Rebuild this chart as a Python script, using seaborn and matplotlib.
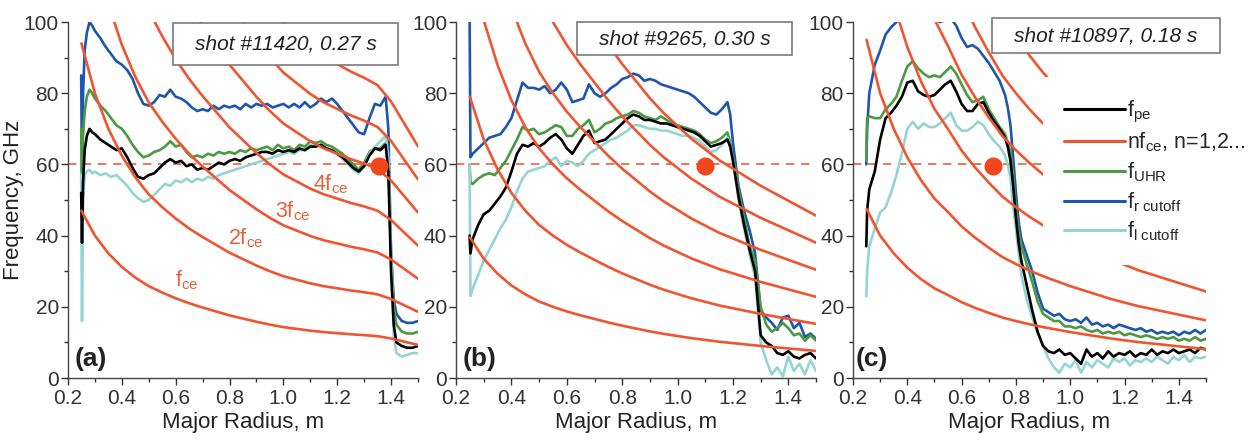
import numpy as np
import pandas as pd
import matplotlib
matplotlib.use('Agg')
import matplotlib.pyplot as plt
import seaborn as sns
from matplotlib.lines import Line2D
from matplotlib.patches import Rectangle
from matplotlib.ticker import MultipleLocator

# ---------------- data ----------------
# electron-cyclotron frequency f_ce (GHz) vs major radius, per shot
RCE = [0.25, 0.30, 0.35, 0.40, 0.45, 0.50, 0.55, 0.60, 0.65, 0.70, 0.75, 0.80, 0.85,
       0.90, 0.95, 1.00, 1.05, 1.10, 1.15, 1.20, 1.25, 1.30, 1.35, 1.40, 1.45, 1.50]
FCE_A = [47.0, 40.0, 35.0, 31.2, 28.2, 25.8, 24.0, 22.4, 21.0, 19.8, 18.7, 17.6, 16.7,
         15.8, 15.0, 14.3, 13.8, 13.3, 12.9, 12.6, 12.3, 12.05, 11.75, 11.1, 10.2, 9.3]
FCE_B = [39.5, 33.5, 29.3, 26.0, 23.5, 21.5, 20.0, 18.7, 17.6, 16.6, 15.6, 14.7, 13.9,
         13.1, 12.4, 11.8, 11.2, 10.7, 10.2, 9.8, 9.4, 9.0, 8.65, 8.3, 7.95, 7.6]
FCE_C = [47.5, 40.0, 35.0, 31.0, 27.8, 25.2, 23.3, 21.3, 19.7, 18.3, 17.0, 16.0, 15.1,
         14.3, 13.6, 12.9, 12.3, 11.7, 11.1, 10.6, 10.1, 9.7, 9.3, 8.9, 8.5, 8.1]
N_HARM = [7, 6, 6]

# ---- shot #11420 (a)
R_A = [0.249, 0.252, 0.256, 0.262, 0.270, 0.28, 0.29,
       0.30, 0.32, 0.34, 0.36, 0.38, 0.40, 0.42, 0.44, 0.46, 0.48,
       0.50, 0.52, 0.54, 0.56, 0.58, 0.60, 0.62, 0.64, 0.66, 0.68,
       0.70, 0.72, 0.74, 0.76, 0.78, 0.80, 0.82, 0.84, 0.86, 0.88,
       0.90, 0.92, 0.94, 0.96, 0.98, 1.00, 1.02, 1.04, 1.06, 1.08,
       1.10, 1.12, 1.14, 1.16, 1.18, 1.20, 1.22, 1.24, 1.26, 1.28,
       1.30, 1.32, 1.34, 1.36, 1.38,
       1.39, 1.40, 1.41, 1.42, 1.44, 1.46, 1.48, 1.50]
RCUT_A = [85, 58, 80, 92, 97, 100, 99,
          97.5, 95.5, 93, 91, 89, 88, 86.5, 84, 80, 77,
          76.5, 77.5, 79.5, 79, 81, 79, 78.5, 77.5, 76, 75,
          75.5, 75, 76.5, 75.5, 76.5, 76, 76.5, 75.5, 77, 76,
          77, 76.5, 77, 76, 76.5, 77, 76, 77, 76, 77.5,
          76, 77, 78.5, 77.5, 78.5, 77, 75, 73, 71, 69,
          68.5, 73, 77, 76.5, 79,
          70, 35, 22, 18, 16, 15.5, 15.5, 16]
UHR_A = [70, 55, 68, 75, 79, 81, 80,
         78.5, 76.5, 75, 73, 71, 70, 68, 65.5, 63.5, 62,
         62.5, 63.5, 64, 65, 66.5, 65, 65.5, 63.5, 62, 62.5,
         62, 63, 62.5, 63.5, 63, 63.5, 63, 64, 63.5, 64.5,
         64, 64.5, 65, 64, 65.5, 64.5, 65, 64, 65.5, 65,
         66.5, 66, 66.5, 65.5, 65, 64, 63, 61.5, 60, 58.5,
         60.5, 63.5, 64.5, 64.5, 66,
         60, 35, 20, 15, 13, 12.5, 12.5, 13]
FPE_A = [52, 38, 55, 64, 68, 70, 69,
         68.5, 67, 66, 65, 64, 64.5, 62, 59, 56.5, 56,
         57, 57.5, 59, 60.5, 61.5, 60.5, 61, 59.5, 60, 58.5,
         59, 58.5, 59.5, 60.5, 60, 61, 61.5, 61, 62, 62.5,
         63, 63.5, 63.5, 63, 64, 63.5, 64, 63.5, 64.5, 64,
         65, 65, 65.5, 64.5, 64, 63, 62, 60.5, 59, 58,
         59.5, 62.5, 64.5, 64, 65.5,
         58, 30, 15, 10, 9, 8.5, 8.5, 9]
LCUT_A = [57, 16, 50, 57, 58, 58.5, 57.5,
          58, 57, 57.5, 56.5, 57, 55.5, 54, 52, 50.5, 49.5,
          50, 51.5, 53, 54.5, 54, 55.5, 55, 56, 55, 56,
          55.5, 56.5, 56, 57, 57.5, 58, 58.5, 59, 59.5, 60,
          60.5, 61, 61.5, 62, 62.5, 63, 63.5, 63, 64, 64,
          65.5, 65, 65.5, 64.5, 64, 63, 61.5, 60, 58.5, 57.5,
          59.5, 63, 65, 66.5, 68,
          62, 35, 12, 7, 6, 6.5, 7, 7]

# ---- shot #9265 (b)
R_B = [0.249, 0.252, 0.26, 0.28,
       0.30, 0.32, 0.34, 0.36, 0.38, 0.40, 0.42, 0.44, 0.46, 0.48,
       0.50, 0.52, 0.54, 0.56, 0.58, 0.60, 0.62, 0.64, 0.66, 0.68,
       0.70, 0.72, 0.74, 0.76, 0.78, 0.80, 0.82, 0.84, 0.86, 0.88,
       0.90, 0.92, 0.94, 0.96, 0.98, 1.00, 1.02, 1.04, 1.06, 1.08,
       1.10, 1.12, 1.14, 1.16, 1.18,
       1.19, 1.20, 1.21, 1.22,
       1.24, 1.26, 1.28, 1.30, 1.32, 1.34, 1.36, 1.38, 1.40, 1.42,
       1.44, 1.46, 1.48, 1.50]
RCUT_B = [102, 62, 63, 64.5,
          66, 67.5, 68, 68.5, 70.5, 73, 78, 83, 81.5, 81.5,
          81, 82, 80, 81, 83, 81, 77.5, 78, 78.5, 82.5,
          80, 79, 80, 81.5, 82.5, 84, 84.5, 85.5, 85, 83.5,
          84, 83.5, 82.5, 82, 81.5, 81, 80.5, 80, 79, 77.5,
          76, 74.5, 74, 75.5, 77.5,
          74, 66, 60, 54,
          47, 41.5, 35, 19, 17, 15.5, 13.5, 17, 17.5, 14,
          15.5, 11.5, 12.5, 11]
UHR_B = [60, 55, 54.5, 56,
         57, 57.5, 57, 59, 61, 64, 67, 70.5, 69.5, 70,
         68.5, 69, 70, 71, 70.5, 68, 68, 70, 71, 72.5,
         69, 70, 71.5, 72, 73, 73.5, 74, 75, 74.5, 73.5,
         73, 72.5, 73.5, 72.5, 71.5, 71, 70.5, 70, 69.5, 68.5,
         67, 66, 66.5, 67.5, 69,
         66, 62, 58.5, 53,
         45, 37, 33, 20, 15, 13, 14, 15.5, 14, 12,
         12.5, 10.5, 12, 10.5]
FPE_B = [40, 35, 39, 43,
         46, 47, 49, 51, 53.5, 58, 63, 65.5, 65, 66,
         65, 66, 67.5, 68.5, 67, 64.5, 63, 65.5, 68, 69.5,
         66, 66.5, 67, 68.5, 70, 71.5, 73, 74, 73.5, 72.5,
         72.5, 72, 71.5, 71.5, 71, 70.5, 70, 69.5, 69, 68,
         66.5, 65, 65.5, 66, 67,
         65, 61, 56, 51,
         43, 36, 30, 12, 10, 9, 7, 6.5, 7.5, 6,
         5.5, 6.5, 7, 5.5]
LCUT_B = [60, 23, 25, 29,
          33, 36, 39, 42, 44.5, 48, 52.5, 56, 58, 58.5,
          59, 59.5, 61, 62, 59.5, 61, 60.5, 59.5, 61, 63,
          64, 65, 66, 67, 67.5, 68.5, 69.5, 71, 71, 70.5,
          70, 70, 69.5, 69.5, 69, 68.5, 68, 68, 67.5, 66.5,
          65, 63.5, 64, 65.5, 67.5,
          65, 61, 56, 50,
          42, 35, 28, 10, 5, 1, 3, 0.5, 6, 2,
          4, 1, 5, 2]

# ---- shot #10897 (c)
R_C = [0.249, 0.252, 0.26, 0.28,
       0.30, 0.32, 0.34, 0.36, 0.38, 0.40, 0.42, 0.44, 0.46, 0.48,
       0.50, 0.52, 0.54, 0.56, 0.58, 0.60, 0.62, 0.64, 0.66, 0.68,
       0.70, 0.72, 0.74, 0.76,
       0.77, 0.78, 0.79, 0.80, 0.81, 0.82,
       0.84, 0.86, 0.88, 0.90, 0.92, 0.94, 0.96, 0.98, 1.00, 1.02,
       1.04, 1.06, 1.08, 1.10, 1.12, 1.14, 1.16, 1.18, 1.20, 1.22,
       1.24, 1.26, 1.28, 1.30, 1.32, 1.34, 1.36, 1.38, 1.40, 1.42,
       1.44, 1.46, 1.48, 1.50]
RCUT_C = [60, 70, 80, 88,
          92, 96.5, 98.5, 100, 102, 104, 103, 105, 104, 102,
          101, 100, 100.5, 101, 99, 95.5, 93, 93.5, 92.5, 90.5,
          88.5, 86, 83.5, 79.5,
          76, 71, 62, 52, 44, 39,
          34.5, 30, 24, 19.5, 18.5, 17.5, 18, 16.5, 16, 16.5,
          15.5, 17, 15, 15.5, 14.5, 15, 14, 15, 14.5, 14,
          13.5, 14, 13, 13.5, 12.5, 13, 12.5, 13, 12, 13,
          12.5, 13.5, 12.5, 13.5]
UHR_C = [61, 73, 73.5, 73,
         73, 75.5, 77, 79, 83.5, 87.5, 89, 87, 85.5, 84.5,
         85, 84.5, 86, 87.5, 85.5, 82.5, 79.5, 77.5, 78, 79,
         75.5, 73, 70.5, 68.5,
         66, 63.5, 57, 48, 41, 37,
         32, 27, 21.5, 18, 17, 16, 16, 14.5, 14.5, 14,
         14.5, 13.5, 13, 13.5, 12.5, 13, 12.5, 13, 12, 12.5,
         12, 11.5, 12, 11.5, 11, 11.5, 11, 11.5, 10.5, 11,
         10.5, 11.5, 10.5, 11]
FPE_C = [37, 47, 53, 58,
         67, 73, 74.5, 76.5, 79, 83, 83.5, 80.5, 79.5, 79,
         79.5, 81, 82.5, 83.5, 80.5, 77, 75, 75, 77, 77.5,
         74.5, 72, 70, 67.5,
         65, 61, 54, 45, 38, 33,
         26, 19, 13, 9, 7.5, 7, 8, 6.5, 7, 5.5,
         4, 8, 6, 7, 5.5, 7.5, 6, 7, 6.5, 7.5,
         6, 7, 6.5, 8, 6.5, 7.5, 7, 8, 7, 7.5,
         8, 7, 8.5, 8]
LCUT_C = [23, 30, 37, 42,
          46.5, 48, 52, 57, 63, 70, 72, 70, 71.5, 70.5,
          70.5, 71.5, 73, 74.5, 71, 69.5, 69.5, 70.5, 72, 71,
          68.5, 66.5, 65, 62.5,
          60, 56, 48, 42, 35, 29,
          22, 17, 12.5, 9, 5.5, 3, 1.5, 4, 3, 5,
          1.5, 4.5, 3, 5, 4, 3, 5.5, 4.5, 5.5, 3.5,
          5, 4.5, 5.5, 4.5, 6, 5, 4, 6, 5, 6.5,
          4.5, 6, 5.5, 6]

# marked points (red dots) and reference level
DOT_R = [1.355, 1.10, 0.716]
DOT_F = [59.5, 59.5, 59.5]
REF_LEVEL = 60

SHOTS = ['shot #11420, 0.27 s', 'shot #9265, 0.30 s', 'shot #10897, 0.18 s']
PANEL_TAGS = ['(a)', '(b)', '(c)']
HARM_LABELS = [r'$\mathregular{f_{ce}}$', r'$\mathregular{2f_{ce}}$',
               r'$\mathregular{3f_{ce}}$', r'$\mathregular{4f_{ce}}$']
LEGEND_LABELS = [r'$\mathregular{f_{pe}}$', r'$\mathregular{nf_{ce}}$, n=1,2...',
                 r'$\mathregular{f_{UHR}}$', r'$\mathregular{f_{r\ cutoff}}$',
                 r'$\mathregular{f_{l\ cutoff}}$']

# ---------------- style ----------------
C_PE = '#000000'
C_CE = '#ef5530'
C_UHR = '#4b9a42'
C_R = '#1f56ad'
C_L = '#95d4d4'
C_DOT = '#f2461c'

sns.set_theme(style='white')
plt.rcParams['font.family'] = ['Liberation Sans', 'DejaVu Sans']
plt.rcParams['mathtext.fontset'] = 'custom'
plt.rcParams['mathtext.rm'] = 'Liberation Sans'
plt.rcParams['mathtext.it'] = 'Liberation Sans:italic'
plt.rcParams['mathtext.bf'] = 'Liberation Sans:bold'

fig = plt.figure(figsize=(12.57, 4.43), dpi=100)
axes_pos = [(0.0541, 0.1467, 0.2784, 0.8036),
            (0.3628, 0.1467, 0.2864, 0.8036),
            (0.6786, 0.1467, 0.2808, 0.8036)]
box_rects = [(0.300, 0.879, 0.643, 0.118),
             (0.336, 0.907, 0.597, 0.093),
             (0.394, 0.913, 0.646, 0.098)]
tag_x = [0.02, 0.017, 0.008]

panels = [
    (R_A, FPE_A, UHR_A, RCUT_A, LCUT_A, FCE_A),
    (R_B, FPE_B, UHR_B, RCUT_B, LCUT_B, FCE_B),
    (R_C, FPE_C, UHR_C, RCUT_C, LCUT_C, FCE_C),
]

axes = []
for i, (R, fpe, uhr, rc, lc, fce) in enumerate(panels):
    ax = fig.add_axes(axes_pos[i])
    axes.append(ax)
    df = pd.DataFrame({'R': R, 'fpe': fpe, 'uhr': uhr, 'rc': rc, 'lc': lc})
    for col, c, z in [('rc', C_R, 2.0), ('uhr', C_UHR, 2.1), ('lc', C_L, 2.2), ('fpe', C_PE, 2.3)]:
        sns.lineplot(data=df, x='R', y=col, color=c, lw=1.9, ax=ax,
                     estimator=None, sort=False, legend=False, zorder=z)
    # harmonics n * f_ce
    rows = []
    for n in range(1, N_HARM[i] + 1):
        for r, f in zip(RCE, fce):
            rows.append((n, r, n * f))
    hdf = pd.DataFrame(rows, columns=['n', 'R', 'f'])
    sns.lineplot(data=hdf, x='R', y='f', units='n', estimator=None, color=C_CE,
                 lw=1.9, ax=ax, legend=False, zorder=3)
    ax.axhline(REF_LEVEL, ls=(0, (5, 4)), lw=1.2, color='#e8603f', zorder=1.5)
    ax.plot([DOT_R[i]], [DOT_F[i]], 'o', ms=12, color=C_DOT, mec=C_DOT, zorder=4)

    ax.set_xlim(0.2, 1.5)
    ax.set_ylim(0, 100)
    ax.xaxis.set_major_locator(MultipleLocator(0.2))
    ax.xaxis.set_minor_locator(MultipleLocator(0.1))
    ax.yaxis.set_major_locator(MultipleLocator(20))
    ax.yaxis.set_minor_locator(MultipleLocator(10))
    ax.set_xticklabels([f'{v:.1f}' for v in ax.get_xticks()])
    ax.tick_params(which='major', direction='out', length=5, width=1,
                   labelsize=15, colors='#333333')
    ax.tick_params(axis='y', which='major', pad=1.5)
    ax.tick_params(axis='x', which='major', pad=3)
    ax.tick_params(which='minor', direction='out', length=3, width=1, colors='#333333')
    ax.tick_params(axis='x', which='both', bottom=True)
    ax.tick_params(axis='y', which='both', left=True)
    for s in ['top', 'right']:
        ax.spines[s].set_visible(False)
    for s in ['left', 'bottom']:
        ax.spines[s].set_color('#444444')
        ax.spines[s].set_linewidth(1.0)
    ax.set_xlabel('Major Radius, m', fontsize=16, color='#222222', labelpad=3)
    if i == 0:
        ax.set_ylabel('Frequency, GHz', fontsize=16, color='#222222', labelpad=0)
    else:
        ax.set_ylabel('')

    bx, by, bw, bh = box_rects[i]
    ax.add_patch(Rectangle((bx, by), bw, bh, transform=ax.transAxes, facecolor='white',
                           edgecolor='#7a7a7a', lw=1.2, zorder=6, clip_on=False))
    ax.text(bx + bw / 2, by + bh / 2, SHOTS[i], transform=ax.transAxes, fontsize=15,
            style='italic', ha='center', va='center', color='#222222', zorder=7)
    ax.text(tag_x[i], 0.02, PANEL_TAGS[i], transform=ax.transAxes, fontsize=19,
            fontweight='bold', ha='left', va='bottom', color='#222222', zorder=7)

# harmonic labels in panel (a)
label_pos = [(0.596, 25.7), (0.794, 37.4), (0.968, 45.1), (1.11, 52.8)]
for (x, y), t in zip(label_pos, HARM_LABELS):
    axes[0].text(x, y, t, fontsize=15.5, color='#e8603c', ha='left', va='baseline', zorder=5)

# legend in panel (c)
handles = [Line2D([], [], color=c, lw=2.2) for c in [C_PE, C_CE, C_UHR, C_R, C_L]]
leg = axes[2].legend(handles, LEGEND_LABELS, loc='upper left', bbox_to_anchor=(0.538, 0.845),
                     frameon=True, fancybox=False, edgecolor='none', facecolor='white',
                     framealpha=1, fontsize=15.5, handlelength=2.8, handletextpad=0.1,
                     labelspacing=0.28, borderpad=1.0, borderaxespad=0)
leg.set_zorder(5)

fig.savefig('out.png', dpi=100, facecolor='white')
